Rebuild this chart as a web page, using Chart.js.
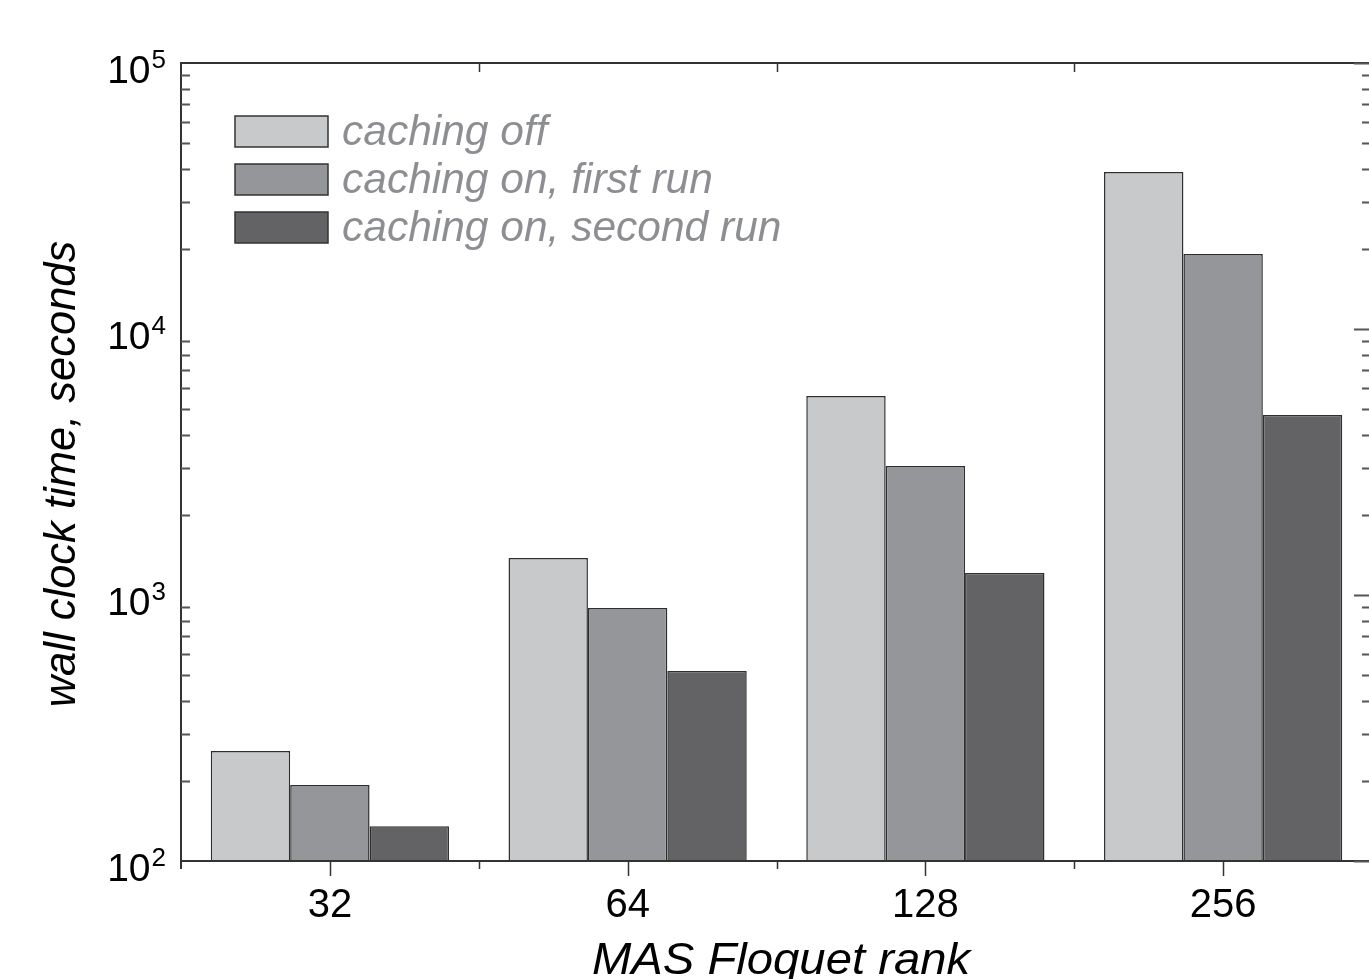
<!DOCTYPE html>
<html lang="en">
<head>
    <meta charset="UTF-8">
    <title>MAS Floquet rank - wall clock time</title>
    <script src="https://cdn.jsdelivr.net/npm/chart.js"></script>
    <style>
        html, body {
            margin: 0;
            padding: 0;
            background: #ffffff;
            overflow: hidden;
        }
        #wrap {
            width: 1372px;
            height: 979px;
        }
    </style>
</head>
<body>
    <div id="wrap">
        <canvas id="graphique" width="1372" height="979"></canvas>
    </div>

    <script>
        // Data (seconds)
        const categories = ['32', '64', '128', '256'];
        const cachingOff = [259, 1377, 5600, 38900];
        const cachingOnFirst = [193, 893, 3055, 19150];
        const cachingOnSecond = [135, 518, 1211, 4750];
        const seriesNames = ['caching off', 'caching on, first run', 'caching on, second run'];
        const yTickExponents = [2, 3, 4, 5];

        const fills = ['#c8c9cb', '#95969a', '#636365'];
        const FONT = '"Liberation Sans", Arial, sans-serif';

        // Draws the frame, ticks, labels and legend by hand (Origin-style look)
        const framePlugin = {
            id: 'frame',
            afterDatasetsDraw(chart) {
                const ctx = chart.ctx;
                const area = chart.chartArea;
                const xs = chart.scales.x;
                const ys = chart.scales.y;
                ctx.save();

                // frame: left, top, bottom
                ctx.strokeStyle = '#333333';
                ctx.lineWidth = 2;
                ctx.beginPath();
                ctx.moveTo(area.left, area.bottom + 8);
                ctx.lineTo(area.left, area.top);
                ctx.lineTo(area.right, area.top);
                ctx.moveTo(area.left, area.bottom);
                ctx.lineTo(area.right, area.bottom);
                ctx.stroke();

                // y minor / major ticks (inward)
                const edge = 1369;
                ctx.strokeStyle = '#555555';
                ctx.lineWidth = 2;
                ctx.beginPath();
                for (let d = 2; d < 5; d++) {
                    for (let m = 2; m <= 9; m++) {
                        const py = Math.round(ys.getPixelForValue(m * Math.pow(10, d))) + 0.5;
                        ctx.moveTo(area.left, py);
                        ctx.lineTo(area.left + 9, py);
                        ctx.moveTo(edge - 7, py);
                        ctx.lineTo(edge + 2, py);
                    }
                }
                yTickExponents.forEach(e => {
                    const py = Math.round(ys.getPixelForValue(Math.pow(10, e))) + 0.5;
                    ctx.moveTo(edge - 15, py);
                    ctx.lineTo(edge + 2, py);
                });
                ctx.stroke();

                // x ticks: centers down, boundaries down and at top
                ctx.strokeStyle = '#333333';
                ctx.lineWidth = 1.5;
                ctx.beginPath();
                const step = xs.getPixelForTick(1) - xs.getPixelForTick(0);
                categories.forEach((c, i) => {
                    const px = Math.round(xs.getPixelForTick(i)) + 0.5;
                    ctx.moveTo(px, area.bottom);
                    ctx.lineTo(px, area.bottom + 15);
                    if (i > 0) {
                        const bx = Math.round(xs.getPixelForTick(i) - step / 2) + 0.5;
                        ctx.moveTo(bx, area.bottom);
                        ctx.lineTo(bx, area.bottom + 8);
                        ctx.moveTo(bx, area.top);
                        ctx.lineTo(bx, area.top + 9);
                    }
                });
                ctx.stroke();

                // x tick labels
                ctx.fillStyle = '#000000';
                ctx.font = '40px ' + FONT;
                ctx.textAlign = 'center';
                ctx.textBaseline = 'alphabetic';
                categories.forEach((c, i) => {
                    ctx.fillText(c, xs.getPixelForTick(i), area.bottom + 56);
                });

                // y tick labels 10^n
                yTickExponents.forEach(e => {
                    const py = ys.getPixelForValue(Math.pow(10, e));
                    const right = area.left - 15;
                    ctx.font = '26px ' + FONT;
                    const supW = ctx.measureText(String(e)).width;
                    ctx.textAlign = 'left';
                    ctx.fillText(String(e), right - supW, py + 5);
                    ctx.font = '39px ' + FONT;
                    ctx.textAlign = 'right';
                    ctx.fillText('10', right - supW - 1, py + 20);
                });

                // axis titles
                ctx.save();
                ctx.font = 'italic 45px ' + FONT;
                ctx.textAlign = 'center';
                ctx.translate(781, 974);
                ctx.scale(1.05, 1);
                ctx.fillText('MAS Floquet rank', 0, 0);
                ctx.restore();

                ctx.save();
                ctx.font = 'italic 43.5px ' + FONT;
                ctx.textAlign = 'center';
                ctx.translate(75, 474);
                ctx.rotate(-Math.PI / 2);
                ctx.fillText('wall clock time, seconds', 0, 0);
                ctx.restore();

                // legend inside the plot
                chart.data.datasets.forEach((ds, i) => {
                    const top = 116 + i * 48;
                    ctx.fillStyle = ds.backgroundColor;
                    ctx.fillRect(235, top, 93, 31);
                    ctx.strokeStyle = '#333333';
                    ctx.lineWidth = 1.5;
                    ctx.strokeRect(235, top, 93, 31);
                    ctx.fillStyle = '#8d8e91';
                    ctx.font = 'italic 42.5px ' + FONT;
                    ctx.textAlign = 'left';
                    ctx.fillText(ds.label, 342, top + 29);
                });

                ctx.restore();
            }
        };

        const chart = new Chart(document.getElementById('graphique').getContext('2d'), {
            type: 'bar',
            data: {
                labels: categories,
                datasets: [cachingOff, cachingOnFirst, cachingOnSecond].map((vals, i) => ({
                    label: seriesNames[i],
                    data: vals,
                    backgroundColor: fills[i],
                    borderColor: '#2e2e2e',
                    borderWidth: 1.5,
                    categoryPercentage: 0.8,
                    barPercentage: 1.0
                }))
            },
            options: {
                responsive: false,
                animation: false,
                devicePixelRatio: 1,
                layout: { padding: { left: 181, top: 63, right: 0, bottom: 118 } },
                plugins: {
                    legend: { display: false },
                    tooltip: { enabled: false }
                },
                scales: {
                    x: { display: false },
                    y: { type: 'logarithmic', display: false, min: 100, max: 100000 }
                }
            },
            plugins: [framePlugin]
        });
    </script>
</body>
</html>
